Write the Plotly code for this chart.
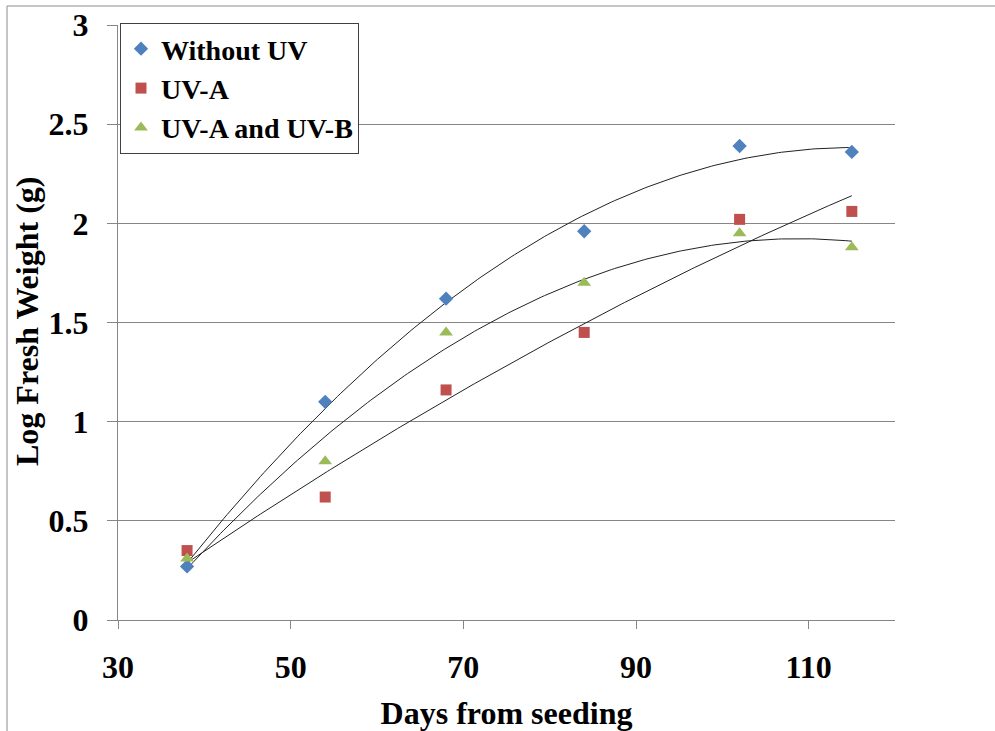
import numpy as np
import plotly.graph_objects as go

days = [38, 54, 68, 84, 102, 115]
without_uv = [0.27, 1.10, 1.62, 1.96, 2.39, 2.36]
uv_a = [0.35, 0.62, 1.16, 1.45, 2.02, 2.06]
uv_ab = [0.31, 0.80, 1.45, 1.70, 1.95, 1.88]

series_names = ["Without UV", "UV-A", "UV-A and UV-B"]
series_values = [without_uv, uv_a, uv_ab]
colors = ["#4F81BD", "#C0504D", "#9BBB59"]
symbols = ["diamond", "square", "triangle-up"]
sizes = [11, 11, 12]

x_ticks = [30, 50, 70, 90, 110]
y_ticks = [0, 0.5, 1, 1.5, 2, 2.5, 3]
y_tick_text = ["0", "0.5", "1", "1.5", "2", "2.5", "3"]

FONT = "Liberation Serif, Times New Roman, serif"

fig = go.Figure()

# quadratic trendlines fitted to each series
xs = np.linspace(min(days), max(days), 200)
for vals in series_values:
    coef = np.polyfit(days, vals, 2)
    fig.add_trace(go.Scatter(x=xs, y=np.polyval(coef, xs), mode="lines",
                             line=dict(color="#222222", width=1),
                             showlegend=False, hoverinfo="skip"))

for name, vals, c, s, sz in zip(series_names, series_values, colors, symbols, sizes):
    fig.add_trace(go.Scatter(x=days, y=vals, mode="markers", name=name,
                             marker=dict(symbol=s, color=c, size=sz, line=dict(width=0))))

L, R, T, B = 118, 100, 25, 111
W, H = 995, 731
pw, ph = W - L - R, H - T - B

def px_x(p):
    return (p - L) / pw

def px_y(p):
    return (H - B - p) / ph

fig.update_layout(
    width=W, height=H,
    margin=dict(l=L, r=R, t=T, b=B, pad=0),
    paper_bgcolor="white", plot_bgcolor="white",
    font=dict(family=FONT, color="black"),
    showlegend=True,
    legend=dict(x=px_x(120), y=px_y(23), xanchor="left", yanchor="top",
                bgcolor="white", bordercolor="#404040", borderwidth=1,
                font=dict(family=FONT, size=28, weight="bold", color="black"),
                itemwidth=30, tracegroupgap=2),
    xaxis=dict(range=[30, 120], tickvals=x_ticks, ticktext=[str(v) for v in x_ticks],
               showgrid=False, zeroline=False, showline=True, linecolor="#868686", linewidth=1,
               ticks="outside", ticklen=8, tickcolor="#868686", tickwidth=1,
               tickfont=dict(family=FONT, size=32, weight="bold", color="black"),
               ticklabelstandoff=11,
               title=dict(text="Days from seeding", standoff=22,
                          font=dict(family=FONT, size=32, weight="bold", color="black")),
               automargin=False),
    yaxis=dict(range=[0, 3], tickvals=y_ticks, ticktext=y_tick_text,
               showgrid=True, gridcolor="#868686", gridwidth=1, zeroline=False,
               showline=True, linecolor="#868686", linewidth=1,
               ticks="outside", ticklen=10, tickcolor="#868686", tickwidth=1,
               tickfont=dict(family=FONT, size=32, weight="bold", color="black"),
               ticklabelstandoff=12,
               automargin=False),
    annotations=[dict(text="Log Fresh Weight (g)", textangle=-90, showarrow=False,
                      xref="paper", yref="paper", x=px_x(27), y=px_y(322),
                      xanchor="center", yanchor="middle",
                      font=dict(family=FONT, size=32, weight="bold", color="black"))],
    shapes=[dict(type="rect", xref="paper", yref="paper",
                 x0=px_x(7), x1=px_x(1100), y0=px_y(800), y1=px_y(6),
                 line=dict(color="#8c8c8c", width=1), fillcolor="rgba(0,0,0,0)", layer="below")],
)

fig.write_html("out.html")
